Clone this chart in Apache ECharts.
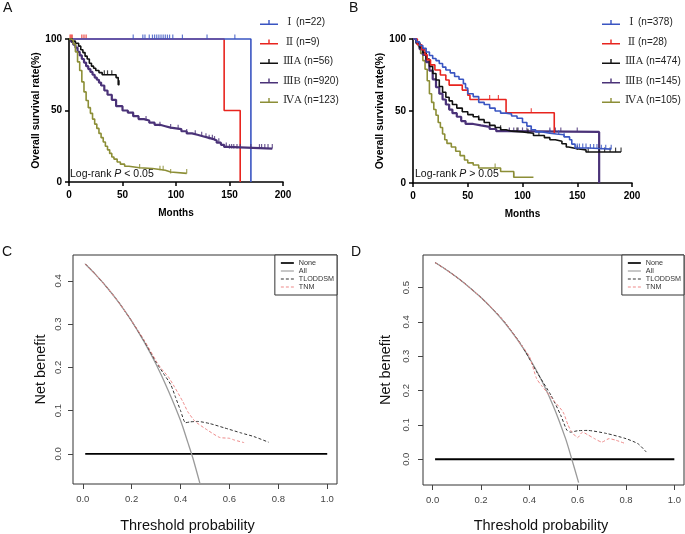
<!DOCTYPE html>
<html><head><meta charset="utf-8">
<script src="https://cdn.jsdelivr.net/npm/echarts@6/dist/echarts.min.js"></script>
<style>html,body{margin:0;padding:0;background:#fff}#c{width:685px;height:534px}</style>
</head><body><div id="c"></div>
<script>
// ---------- Panel A (Kaplan-Meier, [months, survival %]) ----------
const A_names = ['Ⅰ (n=22)','Ⅱ (n=9)','ⅢA (n=56)','ⅢB (n=920)','ⅣA (n=123)'];
const A_I = [[0,100],[170,0]];
const A_II = [[0,100],[145,50],[160,0]];
const A_IIIA = [[0,100],[3,98.5],[6,97],[9,95],[11,92.5],[13,90.5],[15,88],[17,86],[19,83],[21,81],[23,79.5],[25,78],[28,76.5],[31,75],[44,73],[46,68],[47,68]];
const A_IIIB = [[0,100],[2,98],[4,96],[6,94],[8,91],[10,88.5],[12,86],[14,83.5],[16,81],[18,79],[20,77],[22,75],[24,73],[26,71.5],[28,69.5],[30,67.5],[33,64],[36,61],[40,57.5],[44,53],[50,50],[55,48.5],[60,46],[65,44],[70,43],[75,41.5],[80,40],[85,39],[90,38],[95,37.5],[100,37],[105,35.5],[110,34],[115,33],[120,32],[125,31],[130,30],[135,29],[138,27.5],[142,26],[145,24.5],[148,23.4],[190,23.4]];
const A_IVA = [[0,100],[2,99],[4,96.5],[6,91],[8,84],[10,78],[12,70],[14,63],[16,57],[18,52],[20,48],[22,44],[24,40.5],[26,37.5],[28,34],[30,31],[32,28],[34,25],[36,22.5],[38,20],[40,17.5],[42,16],[45,14],[48,12.5],[52,11],[56,10],[66,9.4],[78,8.2],[90,7],[95,6],[110,6]];
const A_I_c = [60,69,71,75,78,80,82,84,86,88,90,92,94,97,106,129,155];
const A_II_c = [1,2,3,12,14,16];
const A_IIIA_c = [33,36,40,47];
const A_IIIB_c = [60,72,85,95,102,110,118,124,128,131,134,136,140,147,150,152,154,157,160,170,178,180,183,186,190];
const A_IVA_c = [66,85,88,95,110];

// ---------- Panel B ----------
const B_names = ['Ⅰ (n=378)','Ⅱ (n=28)','ⅢA (n=474)','ⅢB (n=145)','ⅣA (n=105)'];
const B_I = [[0,100],[3,98],[6,95.5],[9,93.5],[12,91],[15,88.5],[18,86.5],[21,85],[24,83],[27,80.5],[30,78.5],[34,76.5],[38,74],[42,72],[46,69],[48,66],[50,62],[55,60],[60,56],[65,54.5],[70,52],[75,50],[80,48.5],[85,48],[90,46.5],[95,45],[100,42],[104,39.5],[108,37],[112,35.5],[118,34.5],[125,34],[131,33.5],[138,32],[143,30],[145,27],[148,24.3],[160,24],[170,23.5],[181,23.5]];
const B_II = [[0,100],[4,96],[8,92.5],[11,89],[13,85.5],[16,82],[20,78.5],[25,75],[30,71.5],[33,68],[45,64.5],[50,61],[52,58],[85,48.8],[129,34.5]];
const B_IIIA = [[0,100],[3,97.5],[6,94],[9,90.5],[12,86],[15,81],[18,76],[21,71.5],[24,67],[27,63],[30,59.5],[33,57],[36,54.5],[40,52],[45,49.5],[50,47.5],[55,46],[60,44],[65,42],[70,40],[75,38.5],[80,37],[85,36],[90,35.5],[100,34.5],[110,33],[120,31.5],[125,30],[130,29],[136,27.3],[140,25],[142,23.8],[150,23],[158,21.5],[190,21.5]];
const B_IIIB = [[0,100],[3,97],[6,93],[9,89],[12,84],[15,78],[18,72],[21,66.5],[24,62],[27,58],[30,54.5],[33,51],[36,48.5],[40,46],[44,43],[48,41],[55,40],[62,39],[70,37.5],[76,36],[85,35.5],[170,0]];
const B_IVA = [[0,100],[3,98],[5,95],[7,90],[9,85],[11,79],[13,71],[15,62],[17,56],[19,51],[21,47],[23,42],[25,38.5],[27,34],[29,30],[31,27.5],[35,25],[39,22],[43,19],[47,16],[50,14],[55,12.5],[60,10.4],[80,8],[92,4],[110,4]];
const B_I_c = [125,133,138,150,152,155,158,162,165,168,172,176,181];
const B_II_c = [70,78,108];
const B_IIIA_c = [60,80,95,105,115,150,160,170,175,180,185,190];
const B_IIIB_c = [88,92,96,100,104,108,125,130,135,150];
const B_IVA_c = [75,92];

// ---------- Panel C (decision curves, [threshold, net benefit]) ----------
const DCA_names = ['None','All','TLODDSM','TNM'];
const C_None = [[0.01,0],[1.0,0]];
const C_All = [[0.01,0.439],[0.05,0.416],[0.1,0.384],[0.15,0.348],[0.2,0.307],[0.25,0.26],[0.3,0.207],[0.35,0.146],[0.4,0.077],[0.43,0.026],[0.45,-0.009],[0.48,-0.07]];
const C_TLODDSM = [[0.01,0.439],[0.05,0.416],[0.1,0.384],[0.15,0.348],[0.2,0.307],[0.25,0.262],[0.3,0.212],[0.33,0.186],[0.36,0.16],[0.38,0.13],[0.4,0.10],[0.42,0.072],[0.44,0.074],[0.47,0.075],[0.52,0.07],[0.58,0.06],[0.65,0.048],[0.7,0.04],[0.76,0.027]];
const C_TNM = [[0.01,0.439],[0.05,0.416],[0.1,0.384],[0.15,0.348],[0.2,0.307],[0.25,0.264],[0.3,0.215],[0.32,0.198],[0.35,0.178],[0.375,0.155],[0.41,0.12],[0.43,0.097],[0.46,0.075],[0.51,0.055],[0.56,0.038],[0.6,0.036],[0.62,0.032],[0.66,0.026]];

// ---------- Panel D ----------
const D_None = [[0.01,0],[1.0,0]];
const D_All = [[0.01,0.573],[0.05,0.555],[0.1,0.53],[0.15,0.502],[0.2,0.471],[0.25,0.436],[0.3,0.396],[0.35,0.349],[0.4,0.295],[0.45,0.231],[0.5,0.154],[0.55,0.06],[0.575,0.002],[0.604,-0.068]];
const D_TLODDSM = [[0.01,0.573],[0.05,0.555],[0.1,0.53],[0.15,0.502],[0.2,0.471],[0.25,0.437],[0.3,0.398],[0.37,0.33],[0.43,0.255],[0.49,0.186],[0.53,0.128],[0.555,0.085],[0.57,0.079],[0.6,0.083],[0.64,0.084],[0.72,0.075],[0.8,0.06],[0.85,0.045],[0.884,0.021]];
const D_TNM = [[0.01,0.573],[0.05,0.555],[0.1,0.53],[0.15,0.502],[0.2,0.471],[0.25,0.437],[0.3,0.398],[0.37,0.33],[0.4,0.3],[0.43,0.235],[0.45,0.215],[0.5,0.172],[0.54,0.137],[0.56,0.1],[0.575,0.08],[0.6,0.063],[0.62,0.079],[0.64,0.072],[0.67,0.06],[0.7,0.05],[0.73,0.06],[0.76,0.055],[0.8,0.045]];

const xTicks = [0,0.2,0.4,0.6,0.8,1.0];
const C_yTicks = [0,0.1,0.2,0.3,0.4];
const D_yTicks = [0,0.1,0.2,0.3,0.4,0.5];

// ---------- styling ----------
const kmColors = ['#3a55c2','#e8241e','#111111','#4a3278','#8c8e36'];
const SANS = 'Liberation Sans, Arial, sans-serif';
const SERIF = 'Liberation Serif, DejaVu Serif, serif';

function survAt(curve, t){ let s = curve[0][1]; for (const p of curve){ if (p[0] <= t) s = p[1]; } return s; }

function kmSeries(names, curves, cens, ai, order){
  const out = [];
  order.forEach((i, k) => {
    out.push({type:'line', name:names[i], data:curves[i], step:'end', xAxisIndex:ai, yAxisIndex:ai,
      symbol:'none', clip:false, lineStyle:{color:kmColors[i], width:(i===3?2.2:1.6)}, itemStyle:{color:kmColors[i]}, z:2+k});
    out.push({type:'scatter', name:names[i]+' censored', data:cens[i].map(t=>[t, survAt(curves[i], t)]),
      xAxisIndex:ai, yAxisIndex:ai, symbol:'rect', symbolSize:[1.2,4.5], symbolOffset:[0,-2.2], clip:false,
      itemStyle:{color:kmColors[i]}, z:2+k});
  });
  return out;
}

function kmX(gi, gap){
  return {gridIndex:gi, type:'value', min:0, max:200, interval:50,
    axisLine:{show:true, onZero:false, lineStyle:{color:'#000', width:1.6}},
    axisTick:{show:true, inside:false, length:4, lineStyle:{color:'#000', width:1.5}},
    axisLabel:{margin:8, fontFamily:SANS, fontWeight:'bold', fontSize:10, color:'#000'},
    splitLine:{show:false}, name:'Months', nameLocation:'middle', nameGap:gap,
    nameTextStyle:{fontFamily:SANS, fontWeight:'bold', fontSize:10, color:'#000'}};
}
function kmY(gi, gap){
  return {gridIndex:gi, type:'value', min:0, max:100, interval:50,
    axisLine:{show:true, onZero:false, lineStyle:{color:'#000', width:1.6}},
    axisTick:{show:true, inside:false, length:4, lineStyle:{color:'#000', width:1.5}},
    axisLabel:{margin:7, fontFamily:SANS, fontWeight:'bold', fontSize:10, color:'#000'},
    splitLine:{show:false}, name:'Overall survival rate(%)', nameLocation:'middle', nameGap:gap,
    nameTextStyle:{fontFamily:SANS, fontWeight:'bold', fontSize:10.5, color:'#000'}};
}
function dcaX(gi, gap, shift, margin){
  return {gridIndex:gi, type:'value', min:-0.04, max:1.04,
    axisLine:{show:false, onZero:false},
    axisTick:{show:true, inside:false, length:5, customValues:xTicks, lineStyle:{color:'#444', width:1}},
    axisLabel:{customValues:xTicks, formatter:v=>v.toFixed(1), margin:margin, fontFamily:SANS, fontSize:9.5, color:'#444'},
    splitLine:{show:false}, name:'Threshold probability', nameLocation:'middle', nameGap:gap,
    nameTextStyle:{fontFamily:SANS, fontSize:14.5, color:'#111', padding:[0,shift,0,0]}};
}
function dcaY(gi, min, max, ticks, gap, margin){
  return {gridIndex:gi, type:'value', min:min, max:max,
    axisLine:{show:false, onZero:false},
    axisTick:{show:true, inside:false, length:5, customValues:ticks, lineStyle:{color:'#444', width:1}},
    axisLabel:{customValues:ticks, formatter:v=>v.toFixed(1), rotate:90, margin:margin, fontFamily:SANS, fontSize:9.5, color:'#444'},
    splitLine:{show:false}, name:'Net benefit', nameLocation:'middle', nameGap:gap,
    nameTextStyle:{fontFamily:SANS, fontSize:14.5, color:'#111'}};
}
function dcaSeries(ai, none, all, tl, tnm){
  return [
    {type:'line', name:'None', data:none, xAxisIndex:ai, yAxisIndex:ai, symbol:'none', clip:false, lineStyle:{color:'#000', width:1.8}, itemStyle:{color:'#000'}},
    {type:'line', name:'All', data:all, xAxisIndex:ai, yAxisIndex:ai, symbol:'none', smooth:0.3, clip:false, lineStyle:{color:'#9a9a9a', width:1.3}, itemStyle:{color:'#9a9a9a'}},
    {type:'line', name:'TLODDSM', data:tl, xAxisIndex:ai, yAxisIndex:ai, symbol:'none', smooth:0.2, clip:false, lineStyle:{color:'#333', width:1, type:[3,2]}, itemStyle:{color:'#333'}},
    {type:'line', name:'TNM', data:tnm, xAxisIndex:ai, yAxisIndex:ai, symbol:'none', smooth:0.2, clip:false, lineStyle:{color:'#ee8a8a', width:1, type:[3,2]}, itemStyle:{color:'#ee8a8a'}}
  ];
}

function kmFmt(name){
  const i = name.indexOf(' ');
  const r = name.slice(0,i), t = name.slice(i+1);
  return (r.length === 1 ? '{r1|'+r+'}' : '{r2|'+r+'}') + '{t|'+t+'}';
}
const kmRich = {
  r1:{fontFamily:SERIF, fontSize:11, color:'#333', width:13, align:'center'},
  r2:{fontFamily:SERIF, fontSize:11, color:'#333', width:21, align:'left'},
  t:{fontFamily:SANS, fontSize:10, color:'#222'}
};
const kmIcon = 'path://M0,3.8h18v1.4h-18zM8.3,0.4h1.4v4h-1.4z';

function kmLegend(left, names){
  return {left:left, top:11.5, orient:'vertical', itemWidth:18, itemHeight:5.2, itemGap:7.5,
    icon:kmIcon, data:names, formatter:kmFmt, selectedMode:false,
    textStyle:{lineHeight:12, rich:kmRich}};
}
const solidIcon = 'path://M0,0h14v1.8h-14z';
const thinIcon = 'path://M0,0h14v1.2h-14z';
const dashIcon = 'path://M0,0h3.2v1.2h-3.2zM5.4,0h3.2v1.2h-3.2zM10.8,0h3.2v1.2h-3.2z';
function dcaLegend(right){
  return {right:right, top:255, orient:'vertical', itemWidth:13, itemHeight:6, itemGap:0,
    padding:[4,3,4,6], borderColor:'#333', borderWidth:1, backgroundColor:'#fff',
    data:[{name:'None', icon:solidIcon},{name:'All', icon:thinIcon},{name:'TLODDSM', icon:dashIcon},{name:'TNM', icon:dashIcon}],
    selectedMode:false,
    textStyle:{fontFamily:SANS, fontSize:7.2, lineHeight:8, color:'#333'}};
}

const option = {
  animation:false,
  backgroundColor:'#fff',
  grid:[
    {left:69, top:39, width:214, height:143},
    {left:413, top:39, width:219, height:144},
    {left:73, top:255, width:264, height:230, show:true, borderColor:'#333', borderWidth:1, backgroundColor:'transparent'},
    {left:423, top:255, width:261, height:232, show:true, borderColor:'#333', borderWidth:1, backgroundColor:'transparent'}
  ],
  xAxis:[kmX(0,26), kmX(1,26), dcaX(2,34,35,10), dcaX(3,33,25,10)],
  yAxis:[kmY(0,27), kmY(1,25), dcaY(2,-0.0696,0.4596,C_yTicks,25,9.5), dcaY(3,-0.075,0.595,D_yTicks,30,12)],
  legend:[kmLegend(255, A_names), kmLegend(597, B_names), dcaLegend(348), dcaLegend(1)],
  series:[].concat(
    kmSeries(A_names, [A_I,A_II,A_IIIA,A_IIIB,A_IVA], [A_I_c,A_II_c,A_IIIA_c,A_IIIB_c,A_IVA_c], 0, [1,0,3,2,4]),
    kmSeries(B_names, [B_I,B_II,B_IIIA,B_IIIB,B_IVA], [B_I_c,B_II_c,B_IIIA_c,B_IIIB_c,B_IVA_c], 1, [4,3,2,1,0]),
    dcaSeries(2, C_None, C_All, C_TLODDSM, C_TNM),
    dcaSeries(3, D_None, D_All, D_TLODDSM, D_TNM)
  ),
  graphic:[
    {type:'text', left:3, top:1, style:{text:'A', font:'14px '+SANS, fill:'#111'}},
    {type:'text', left:349, top:1, style:{text:'B', font:'14px '+SANS, fill:'#111'}},
    {type:'text', left:2, top:245, style:{text:'C', font:'14px '+SANS, fill:'#111'}},
    {type:'text', left:351, top:245, style:{text:'D', font:'14px '+SANS, fill:'#111'}},
    {type:'text', left:70, top:169, style:{text:'{n|Log-rank }{i|P}{n| < 0.05}', rich:{n:{fontFamily:SANS, fontSize:10.5, fill:'#111'}, i:{fontFamily:SANS, fontSize:10.5, fontStyle:'italic', fill:'#111'}}}},
    {type:'text', left:415, top:169, style:{text:'{n|Log-rank }{i|P}{n| > 0.05}', rich:{n:{fontFamily:SANS, fontSize:10.5, fill:'#111'}, i:{fontFamily:SANS, fontSize:10.5, fontStyle:'italic', fill:'#111'}}}}
  ]
};
const chart = echarts.init(document.getElementById('c'), null, {renderer:'canvas', width:685, height:534});
chart.setOption(option);
</script></body></html>
